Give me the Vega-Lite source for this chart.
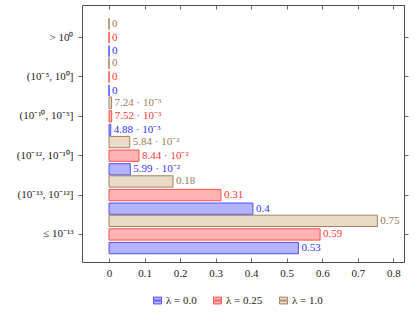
{
  "$schema": "https://vega.github.io/schema/vega-lite/v6.json",
  "autosize": "none",
  "padding": {"left": 82, "top": 5, "right": 11, "bottom": 55},
  "width": 322,
  "height": 257,
  "background": "white",
  "config": {
    "font": "Liberation Serif",
    "view": {"stroke": "#4d4d4d", "strokeWidth": 1},
    "axis": {"grid": false, "domain": false, "labelFont": "Liberation Serif", "labelFontSize": 11, "labelColor": "#222", "tickColor": "#666"},
    "legend": {"labelFont": "Liberation Serif", "labelFontSize": 11, "labelColor": "#222"}
  },
  "data": {
    "values": [
      {"bin": "> 10⁰", "series": "λ = 0.0", "value": 0, "label": "0"},
      {"bin": "> 10⁰", "series": "λ = 0.25", "value": 0, "label": "0"},
      {"bin": "> 10⁰", "series": "λ = 1.0", "value": 0, "label": "0"},
      {"bin": "(10⁻⁵, 10⁰]", "series": "λ = 0.0", "value": 0, "label": "0"},
      {"bin": "(10⁻⁵, 10⁰]", "series": "λ = 0.25", "value": 0, "label": "0"},
      {"bin": "(10⁻⁵, 10⁰]", "series": "λ = 1.0", "value": 0, "label": "0"},
      {"bin": "(10⁻¹⁰, 10⁻⁵]", "series": "λ = 0.0", "value": 0.00488, "label": "4.88 · 10⁻³"},
      {"bin": "(10⁻¹⁰, 10⁻⁵]", "series": "λ = 0.25", "value": 0.00752, "label": "7.52 · 10⁻³"},
      {"bin": "(10⁻¹⁰, 10⁻⁵]", "series": "λ = 1.0", "value": 0.00724, "label": "7.24 · 10⁻³"},
      {"bin": "(10⁻¹², 10⁻¹⁰]", "series": "λ = 0.0", "value": 0.0599, "label": "5.99 · 10⁻²"},
      {"bin": "(10⁻¹², 10⁻¹⁰]", "series": "λ = 0.25", "value": 0.0844, "label": "8.44 · 10⁻²"},
      {"bin": "(10⁻¹², 10⁻¹⁰]", "series": "λ = 1.0", "value": 0.0584, "label": "5.84 · 10⁻²"},
      {"bin": "(10⁻¹³, 10⁻¹²]", "series": "λ = 0.0", "value": 0.405, "label": "0.4"},
      {"bin": "(10⁻¹³, 10⁻¹²]", "series": "λ = 0.25", "value": 0.315, "label": "0.31"},
      {"bin": "(10⁻¹³, 10⁻¹²]", "series": "λ = 1.0", "value": 0.18, "label": "0.18"},
      {"bin": "≤ 10⁻¹³", "series": "λ = 0.0", "value": 0.533, "label": "0.53"},
      {"bin": "≤ 10⁻¹³", "series": "λ = 0.25", "value": 0.594, "label": "0.59"},
      {"bin": "≤ 10⁻¹³", "series": "λ = 1.0", "value": 0.755, "label": "0.75"}
    ]
  },
  "encoding": {
    "y": {
      "field": "bin", "type": "nominal",
      "sort": ["> 10⁰", "(10⁻⁵, 10⁰]", "(10⁻¹⁰, 10⁻⁵]", "(10⁻¹², 10⁻¹⁰]", "(10⁻¹³, 10⁻¹²]", "≤ 10⁻¹³"],
      "scale": {"paddingInner": 0, "paddingOuter": 0.25, "range": [3, 259]},
      "title": null
    },
    "yOffset": {
      "field": "series", "type": "nominal",
      "sort": ["λ = 1.0", "λ = 0.25", "λ = 0.0"],
      "scale": {"paddingInner": 0.17, "paddingOuter": 0.03}
    }
  },
  "layer": [
    {
      "mark": {"type": "bar", "strokeWidth": 1, "fillOpacity": 1},
      "encoding": {
        "x": {
          "field": "value", "type": "quantitative",
          "scale": {"domain": [-0.076, 0.83], "nice": false, "zero": false},
          "axis": {"orient": "bottom", "values": [0, 0.1, 0.2, 0.3, 0.4, 0.5, 0.6, 0.7, 0.8], "format": "~g", "tickSize": -4, "labelPadding": 9, "title": null}
        },
        "y": {"field": "bin", "type": "nominal", "axis": {"orient": "left", "tickSize": 4, "labelPadding": 5, "title": null}},
        "fill": {
          "field": "series", "type": "nominal",
          "scale": {"domain": ["λ = 0.0", "λ = 0.25", "λ = 1.0"], "range": ["#b3b3ff", "#ffb3b3", "#ebdac6"]},
          "legend": {"orient": "none", "legendX": 70, "legendY": 290, "direction": "horizontal", "title": null, "symbolType": "M-1,-0.85H1V-0.1H-1Z M-1,0.1H1V0.85H-1Z", "symbolSize": 64, "symbolStrokeWidth": 1, "labelOffset": 3, "columnPadding": 14}
        },
        "stroke": {
          "field": "series", "type": "nominal",
          "scale": {"domain": ["λ = 0.0", "λ = 0.25", "λ = 1.0"], "range": ["#5050ff", "#ff5050", "#a08262"]},
          "legend": null
        }
      }
    },
    {
      "mark": {"type": "text", "align": "left", "baseline": "middle", "dx": 3, "fontSize": 11, "font": "Liberation Serif"},
      "encoding": {
        "x": {
          "field": "value", "type": "quantitative",
          "axis": {"orient": "top", "values": [0, 0.1, 0.2, 0.3, 0.4, 0.5, 0.6, 0.7, 0.8], "labels": false, "tickSize": -4, "title": null}
        },
        "y": {"field": "bin", "type": "nominal", "axis": {"orient": "right", "labels": false, "tickSize": 4, "title": null}},
        "text": {"field": "label"},
        "color": {
          "field": "series", "type": "nominal",
          "scale": {"domain": ["λ = 0.0", "λ = 0.25", "λ = 1.0"], "range": ["#3333ff", "#ff3333", "#9a7a5c"]},
          "legend": null
        }
      }
    }
  ],
  "resolve": {"axis": {"x": "independent", "y": "independent"}, "scale": {"color": "independent", "fill": "independent", "stroke": "independent"}}
}
